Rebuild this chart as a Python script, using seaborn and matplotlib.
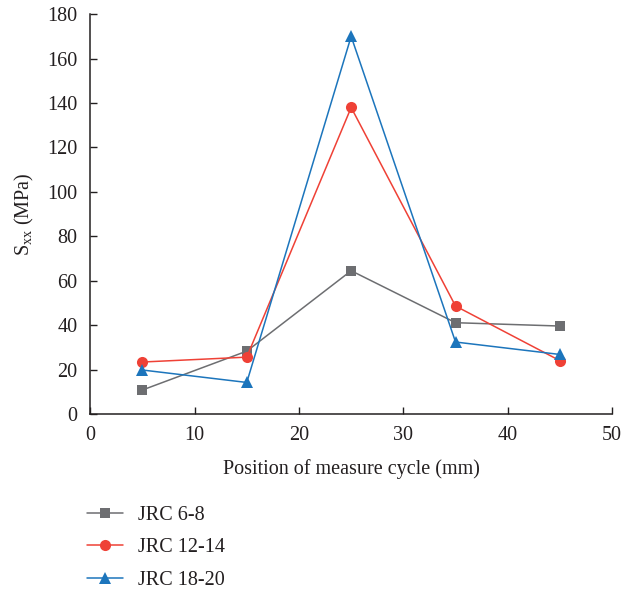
import matplotlib
matplotlib.use("Agg")
import matplotlib.pyplot as plt
import seaborn as sns
import pandas as pd

# Measured stress at each measure-cycle position
positions = [5, 15, 25, 35, 45]
jrc_6_8 = [10.8, 28.3, 64.5, 41.1, 39.6]
jrc_12_14 = [23.4, 25.6, 138.0, 48.6, 24.0]
jrc_18_20 = [19.8, 14.2, 170.0, 32.4, 26.8]
series_names = ["JRC 6-8", "JRC 12-14", "JRC 18-20"]
x_ticks = [0, 10, 20, 30, 40, 50]
y_ticks = [0, 20, 40, 60, 80, 100, 120, 140, 160, 180]

df = pd.DataFrame({
    "pos": positions * 3,
    "sxx": jrc_6_8 + jrc_12_14 + jrc_18_20,
    "series": [n for n in series_names for _ in positions],
})

sns.set_theme(style="ticks")
plt.rcParams["font.family"] = ["Liberation Serif", "DejaVu Serif"]
plt.rcParams["mathtext.fontset"] = "custom"
plt.rcParams["mathtext.rm"] = "Liberation Serif"

fig = plt.figure(figsize=(6.35, 5.91), dpi=100)
ax = fig.add_axes([0.142, 0.2995, 0.822, 0.6765])

palette = {"JRC 6-8": "#6d6e71", "JRC 12-14": "#ef4136", "JRC 18-20": "#1c75bc"}
markers = {"JRC 6-8": "s", "JRC 12-14": "o", "JRC 18-20": "^"}
sizes = {"JRC 6-8": 7, "JRC 12-14": 8, "JRC 18-20": 9}

for name in series_names:
    sub = df[df["series"] == name]
    sns.lineplot(data=sub, x="pos", y="sxx", ax=ax, color=palette[name],
                 marker=markers[name], markersize=sizes[name],
                 markeredgewidth=0, linewidth=1.1, label=name, legend=False)

ax.set_xlim(0, 50)
ax.set_ylim(0, 180)
ax.set_xticks(x_ticks)
ax.set_yticks(y_ticks)
ax.tick_params(direction="in", length=5, width=1, labelsize=14.5,
               colors="#231f20", pad=9)
for s in ["top", "right"]:
    ax.spines[s].set_visible(False)
for s in ["left", "bottom"]:
    ax.spines[s].set_linewidth(1.1)
    ax.spines[s].set_color("#231f20")

ax.set_xlabel("Position of measure cycle (mm)", fontsize=14.5, color="#231f20", labelpad=10)
ax.set_ylabel(r"S$_{\mathrm{xx}}$ (MPa)", fontsize=14.5, color="#231f20", labelpad=8)

handles, labels = ax.get_legend_handles_labels()
fig.legend(handles, labels, loc="upper left", bbox_to_anchor=(0.118, 0.165),
           frameon=False, fontsize=14.5, handlelength=1.8, labelspacing=0.68,
           handletextpad=0.75, labelcolor="#231f20", borderaxespad=0.2)

fig.savefig("out.png", dpi=100)
